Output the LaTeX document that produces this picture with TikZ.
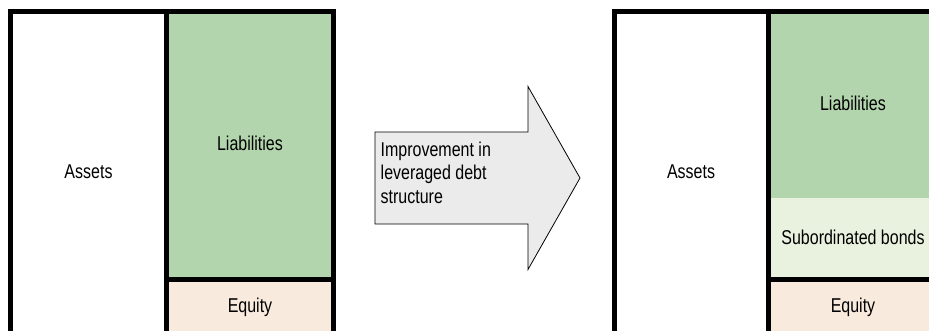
\documentclass[tikz,border=0pt]{standalone}
\usepackage{fontspec}
\setmainfont{Liberation Sans}[FakeStretch=0.8]
\definecolor{liabgreen}{HTML}{B2D5AD}
\definecolor{subgreen}{HTML}{E8F2DE}
\definecolor{equitybeige}{HTML}{F9EADE}
\definecolor{arrowgray}{HTML}{EBEBEB}
\begin{document}
\begin{tikzpicture}[x=1pt,y=1pt,
    frame/.style={line width=5pt},
    lbl/.style={font=\fontsize{20}{23.5}\selectfont,inner sep=0pt,anchor=base}]
	  \useasboundingbox (0,0) rectangle (929,330);
	  \clip (0,0) rectangle (929,330);
	  % before
	  \fill[liabgreen] (166.5,318.5) rectangle (333.5,50.5);
	  \fill[equitybeige] (166.5,50.5) rectangle (333.5,-20);
	  \draw[frame] (10.5,-20) rectangle (333.5,318.5);
	  \draw[frame] (166.5,318.5) -- (166.5,-20);
	  \draw[frame] (166.5,50.5) -- (333.5,50.5);
	  \node[lbl] (assetsA) at (88.5,152) {Assets};
	  \node[lbl] (liabA) at (250,179.5) {Liabilities};
	  \node[lbl] (equityA) at (250,18) {Equity};
	  % arrow
	  \draw[fill=arrowgray,line width=0.8pt] (375,198) -- (528,198) -- (528,243.5)
	    -- (580,152) -- (528,60.5) -- (528,106) -- (375,106) -- cycle;
	  \node[lbl,anchor=north west,align=left] (improve) at (380.5,188.5)
	    {Improvement in\\leveraged debt\\structure};
	  % after
	  \fill[liabgreen] (768.5,318.5) rectangle (936,132);
	  \fill[subgreen] (768.5,132) rectangle (936,50.5);
	  \fill[equitybeige] (768.5,50.5) rectangle (936,-20);
	  \draw[frame] (614,-20) rectangle (936,318.5);
	  \draw[frame] (768.5,318.5) -- (768.5,-20);
	  \draw[frame] (768.5,50.5) -- (936,50.5);
	  \node[lbl] (assetsB) at (691,152) {Assets};
	  \node[lbl] (liabB) at (853,219) {Liabilities};
	  \node[lbl] (subbonds) at (853,86) {Subordinated bonds};
	  \node[lbl] (equityB) at (853,18) {Equity};
\end{tikzpicture}
\end{document}
